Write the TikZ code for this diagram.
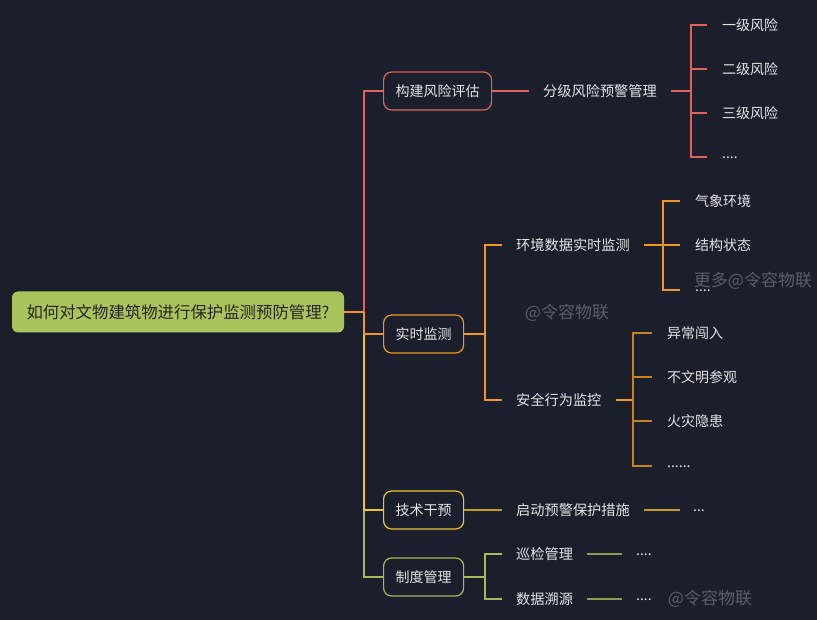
\documentclass[tikz,border=0pt]{standalone}
\usepackage{fontspec}
\setmainfont{Noto Sans CJK SC}
\usepackage{xcolor}
\usepackage{tikz}
\usetikzlibrary{positioning}
\definecolor{bgdark}{HTML}{1B1F2C}
\definecolor{rootgreen}{HTML}{A9C45B}
\definecolor{brred}{HTML}{E0635B}
\definecolor{brorange}{HTML}{F2961F}
\definecolor{bryellow}{HTML}{F0C330}
\definecolor{brgreen}{HTML}{A2BD57}
\definecolor{txtlight}{HTML}{E4E4E4}
\definecolor{markgray}{HTML}{5A5E6A}
\newcommand{\lowdots}[1]{\raisebox{-3pt}{#1}}
\tikzset{
    rootbox/.style={rectangle, rounded corners=6pt, fill=rootgreen, text=black!85, minimum width=332pt, minimum height=41pt, font=\fontsize{16.4}{18}\selectfont},
    topic/.style={rectangle, rounded corners=8pt, draw, line width=1.2pt, fill=bgdark, text=txtlight, inner xsep=12pt, minimum height=38pt, font=\fontsize{14}{16}\selectfont},
    sub/.style={text=txtlight, anchor=west, inner xsep=14pt, font=\fontsize{14.2}{16}\selectfont},
    leaf/.style={text=txtlight, anchor=west, inner xsep=15pt, inner ysep=0pt, minimum height=20pt, font=\fontsize{14}{16}\selectfont},
    wmark/.style={text=markgray, font=\fontsize{17}{19}\selectfont},
    link/.style={line width=1.2pt},
    stem/.style={line width=2pt}
}

\begin{document}
\begin{tikzpicture}[x=1pt, y=-1pt]
    \fill[bgdark] (0,0) rectangle (817,620);
    \useasboundingbox (0,0) rectangle (817,620);

    % root and main topics
    \node (root) [rootbox] at (178,312) {如何对文物建筑物进行保护监测预防管理?};
    \node (risk) [topic, draw=brred, anchor=west] at (383,91) {构建风险评估};
    \node (monitor) [topic, draw=brorange, anchor=west] at (383,334) {实时监测};
    \node (tech) [topic, draw=bryellow, anchor=west] at (383,510) {技术干预};
    \node (rule) [topic, draw=brgreen, anchor=west] at (383,577) {制度管理};

    \coordinate (trunk) at (364,312);
    \draw[link, brgreen] (trunk) |- (rule);
    \draw[link, bryellow] (trunk) |- (tech);
    \draw[link, brorange] (root) -- (trunk) |- (monitor);
    \draw[link, brred] (trunk) |- (risk);

    % risk branch
    \node (grade) [sub] at (529,91) {分级风险预警管理};
    \draw[link, brred] (risk) -- (grade);
    \coordinate (b1) at (691,91);
    \draw[stem, brred] (grade) -- (b1);
    \node (r1) [leaf] at (707,25) {一级风险};
    \node (r2) [leaf] at (707,69) {二级风险};
    \node (r3) [leaf] at (707,113) {三级风险};
    \node (r4) [leaf] at (707,157) {\lowdots{....}};
    \foreach \n in {r1,r2,r3,r4}
        \draw[link, brred] (b1) |- (\n);

    % monitoring branch
    \coordinate (j2) at (485,334);
    \node (env) [sub] at (502,245) {环境数据实时监测};
    \node (safe) [sub] at (502,400) {安全行为监控};
    \draw[link, brorange] (monitor) -- (j2);
    \draw[link, brorange] (j2) |- (env);
    \draw[link, brorange] (j2) |- (safe);

    \coordinate (b2) at (663,245);
    \draw[stem, brorange] (env) -- (b2);
    \node (e1) [leaf] at (680,201) {气象环境};
    \node (e2) [leaf] at (680,245) {结构状态};
    \node (e3) [leaf] at (680,290) {\lowdots{....}};
    \foreach \n in {e1,e2,e3}
        \draw[link, brorange] (b2) |- (\n);

    \coordinate (b3) at (633,400);
    \draw[stem, brorange] (safe) -- (b3);
    \node (s1) [leaf] at (652,333) {异常闯入};
    \node (s2) [leaf] at (652,377) {不文明参观};
    \node (s3) [leaf] at (652,421) {火灾隐患};
    \node (s4) [leaf] at (652,466) {\lowdots{......}};
    \foreach \n in {s1,s2,s3,s4}
        \draw[link, brorange!85!black] (b3) |- (\n);

    % intervention branch
    \node (alarm) [sub] at (502,510) {启动预警保护措施};
    \draw[link, bryellow!80!black] (tech) -- (alarm);
    \node (a1) [leaf, inner xsep=13pt] at (680,510) {\lowdots{...}};
    \draw[link, bryellow!80!black] (alarm) -- (a1);

    % rule branch
    \coordinate (j4) at (485,577);
    \node (patrol) [sub] at (502,554) {巡检管理};
    \node (trace) [sub] at (502,599) {数据溯源};
    \draw[link, brgreen] (rule) -- (j4);
    \draw[link, brgreen] (j4) |- (patrol);
    \draw[link, brgreen] (j4) |- (trace);
    \node (p1) [leaf, inner xsep=14pt] at (622,554) {\lowdots{....}};
    \node (t1) [leaf, inner xsep=14pt] at (622,599) {\lowdots{....}};
    \draw[link, brgreen!85!black] (patrol) -- (p1);
    \draw[link, brgreen!85!black] (trace) -- (t1);

    % watermarks
    \node (wm1) [wmark] at (567,313) {@令容物联};
    \node (wm2) [wmark] at (753,281) {更多@令容物联};
    \node (wm3) [wmark] at (710,599) {@令容物联};
\end{tikzpicture}
\end{document}
